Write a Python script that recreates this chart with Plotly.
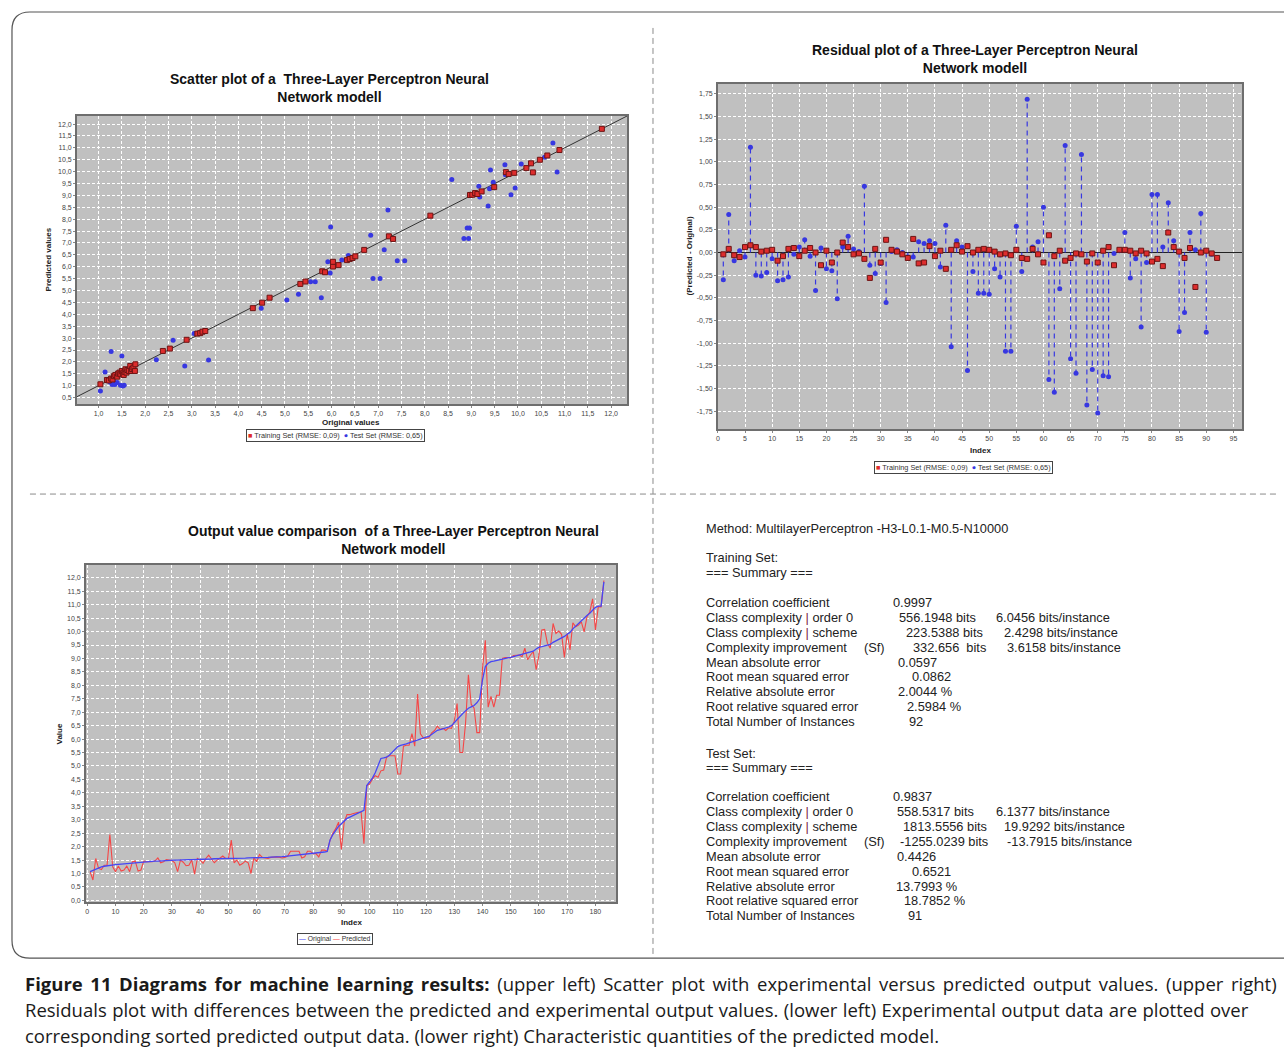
import plotly.graph_objects as go

# ---------------- data ----------------
# Scatter plot (original vs predicted)
train_orig = [1.04, 1.18, 1.22, 1.27, 1.30, 1.33, 1.36, 1.40, 1.42, 1.45, 1.47, 1.50, 1.52, 1.54, 1.56, 1.58, 1.60,
              1.62, 1.65, 1.68, 1.70, 1.72, 1.75, 1.78, 1.79, 2.38, 2.53, 2.89, 3.12, 3.18, 3.23, 3.29, 4.31, 4.51,
              4.67, 5.33, 5.44, 5.80, 5.86, 6.03, 6.03, 6.15, 6.33, 6.39, 6.45, 6.51, 6.70, 7.23, 7.32, 8.12, 8.97,
              9.02, 9.08, 9.13, 9.22, 9.49, 9.74, 9.80, 9.92, 10.18, 10.28, 10.32, 10.47, 10.63, 10.89, 11.80]
train_pred = [1.06, 1.24, 1.22, 1.30, 1.26, 1.40, 1.45, 1.38, 1.51, 1.55, 1.48, 1.62, 1.52, 1.45, 1.58, 1.69, 1.55,
              1.66, 1.62, 1.83, 1.62, 1.70, 1.76, 1.62, 1.90, 2.46, 2.56, 2.93, 3.19, 3.21, 3.27, 3.30, 4.26, 4.49,
              4.70, 5.28, 5.38, 5.81, 5.77, 6.01, 6.21, 6.07, 6.28, 6.33, 6.37, 6.44, 6.71, 7.28, 7.17, 8.15, 9.02,
              9.03, 9.10, 9.06, 9.17, 9.35, 9.98, 9.90, 9.95, 10.15, 10.35, 9.97, 10.50, 10.68, 10.91, 11.80]
test_orig = [1.04, 1.14, 1.27, 1.32, 1.24, 1.29, 1.35, 1.40, 1.47, 1.52, 1.55, 1.50, 1.43, 2.24, 2.60, 2.85, 3.05,
             3.36, 4.49, 5.04, 5.29, 5.55, 5.65, 5.78, 5.92, 5.97, 5.98, 6.22, 6.36, 6.84, 6.89, 7.04, 7.13, 7.21,
             7.41, 7.57, 8.58, 8.84, 8.94, 8.91, 8.96, 9.16, 9.18, 9.36, 9.39, 9.41, 9.47, 9.72, 9.73, 9.85, 9.94,
             10.07, 10.57, 10.75, 10.84]
test_pred = [0.78, 1.58, 2.44, 1.20, 1.16, 1.05, 1.05, 1.13, 1.02, 0.99, 1.02, 2.25, 1.55, 2.09, 2.91, 1.83, 3.19,
             2.08, 4.26, 4.60, 4.84, 5.37, 5.37, 4.70, 6.21, 5.74, 7.67, 6.28, 6.47, 7.33, 5.51, 5.51, 6.72, 8.39,
             6.25, 6.25, 9.67, 7.19, 7.19, 7.63, 7.63, 9.39, 8.93, 8.56, 9.28, 10.07, 9.55, 10.29, 9.87, 9.03, 9.31,
             10.32, 10.61, 11.21, 9.99]

# Residuals (predicted - original) by instance index
train_resid = [-0.02, 0.04, -0.03, -0.05, 0.06, 0.08, 0.06, 0.01, 0.02, 0.03,
               -0.09, -0.04, 0.04, 0.05, -0.04, 0.02, 0.05, 0.00, -0.14, 0.02,
               -0.11, 0.00, 0.11, 0.06, -0.02, -0.01, -0.07, -0.28, 0.04, -0.11,
               0.14, 0.03, 0.01, -0.02, -0.06, 0.15, -0.12, -0.11, 0.07, -0.04,
               0.02, -0.18, 0.03, 0.08, 0.01, 0.07, 0.00, 0.03, 0.04, 0.03,
               0.01, -0.02, -0.01, -0.03, 0.03, -0.06, -0.07, 0.04, -0.02, -0.11,
               0.19, -0.04, 0.02, -0.09, -0.06, -0.01, -0.02, -0.10, -0.01, -0.11,
               0.02, 0.06, -0.14, 0.03, 0.03, 0.02, -0.01, 0.02, -0.01, -0.10,
               -0.07, -0.15, 0.22, 0.06, 0.01, -0.06, 0.05, -0.38, 0.00, 0.02,
               -0.01, -0.06]
test_resid = [-0.30, 0.42, -0.09, 0.02, -0.05, 1.16, -0.25, -0.26, -0.22, -0.07,
              -0.31, -0.30, -0.27, -0.02, 0.06, 0.14, -0.04, -0.42, 0.05, -0.18,
              -0.20, -0.51, 0.06, 0.18, 0.04, 0.01, 0.73, -0.14, -0.23, -0.12,
              -0.55, 0.01, 0.03, 0.00, -0.05, -0.05, 0.12, 0.10, 0.13, 0.10,
              -0.16, 0.30, -1.04, 0.13, 0.06, -1.30, -0.21, -0.45, -0.45, -0.46,
              -0.18, -0.27, -1.09, -1.09, 0.29, -0.21, 1.69, 0.06, 0.12, 0.50,
              -1.40, -1.54, -0.40, 1.18, -1.17, -1.33, 1.08, -1.68, -1.29, -1.77,
              -1.36, -1.37, -0.01, 0.02, 0.22, -0.28, -0.07, -0.82, -0.11, 0.64,
              0.64, 0.06, 0.55, 0.13, -0.87, -0.66, 0.22, 0.03, 0.43, -0.88,
              -0.02]

# Output value comparison (sorted)
original_sorted = [1.07, 1.12, 1.18, 1.22, 1.25, 1.27, 1.29, 1.30, 1.31, 1.33,
                   1.34, 1.35, 1.36, 1.37, 1.38, 1.39, 1.40, 1.41, 1.42, 1.44,
                   1.44, 1.45, 1.45, 1.46, 1.46, 1.47, 1.47, 1.48, 1.49, 1.50,
                   1.50, 1.50, 1.51, 1.51, 1.51, 1.52, 1.52, 1.52, 1.53, 1.53,
                   1.53, 1.54, 1.54, 1.54, 1.55, 1.55, 1.55, 1.56, 1.56, 1.56,
                   1.56, 1.56, 1.57, 1.57, 1.57, 1.57, 1.58, 1.58, 1.58, 1.58,
                   1.59, 1.59, 1.60, 1.60, 1.61, 1.61, 1.62, 1.62, 1.63, 1.64,
                   1.65, 1.66, 1.67, 1.68, 1.69, 1.70, 1.71, 1.72, 1.73, 1.74,
                   1.76, 1.77, 1.78, 1.80, 1.82,
                   2.25, 2.45, 2.60, 2.75, 2.85, 2.95, 3.05, 3.10, 3.15, 3.20, 3.25, 3.30, 3.35,
                   4.27, 4.40, 4.55, 4.75, 5.05, 5.28, 5.30, 5.33, 5.40, 5.50, 5.60, 5.72,
                   5.77, 5.79, 5.82, 5.86, 5.90, 5.93, 5.97, 6.00, 6.03, 6.07, 6.10,
                   6.18, 6.28, 6.33, 6.35, 6.38, 6.41, 6.45, 6.50, 6.62, 6.75,
                   6.85, 6.95, 7.05, 7.15, 7.20, 7.25, 7.35, 7.50, 8.20, 8.70,
                   8.82, 8.88, 8.90, 8.93, 8.95, 8.98, 9.00, 9.02, 9.04, 9.07,
                   9.10, 9.13, 9.16, 9.18, 9.20, 9.23, 9.27, 9.35, 9.42, 9.44,
                   9.46, 9.48, 9.52, 9.60, 9.65, 9.70, 9.76, 9.82, 9.90, 9.97,
                   10.10, 10.20, 10.30, 10.42, 10.50, 10.60, 10.68, 10.80, 10.90, 10.95, 10.95, 11.85]
predicted_sorted = [1.07, 0.76, 1.56, 1.19, 1.15, 1.31, 1.31, 2.45, 1.25, 1.07,
                    1.28, 1.09, 1.13, 1.28, 1.07, 1.44, 1.46, 1.09, 1.13, 1.46,
                    1.44, 1.44, 1.44, 1.47, 1.58, 1.40, 1.44, 1.52, 1.50, 1.48,
                    1.40, 1.07, 1.50, 1.42, 1.29, 1.31, 1.50, 0.98, 1.56, 1.50,
                    1.38, 1.56, 1.68, 1.56, 1.40, 1.50, 1.56, 1.65, 1.56, 1.56,
                    2.24, 1.40, 1.50, 1.31, 1.37, 1.46, 1.40, 1.00, 1.58, 1.44,
                    1.71, 1.60, 1.58, 1.56, 1.60, 1.62, 1.62, 1.61, 1.58, 1.60,
                    1.65, 1.83, 1.83, 1.83, 1.83, 1.58, 1.62, 1.83, 1.83, 1.74,
                    1.74, 1.62, 1.87, 1.87, 1.83,
                    2.24, 2.50, 2.67, 2.91, 1.90, 2.91, 3.19, 3.19, 3.22, 3.25, 3.28, 3.28, 2.11,
                    4.27, 4.33, 4.51, 4.64, 4.58, 4.82, 4.85, 5.32, 5.38, 5.38, 5.38, 4.70,
                    4.70, 5.74, 5.77, 5.77, 6.20, 5.74, 7.68, 6.20, 6.05, 6.03, 6.05,
                    6.23, 6.32, 6.48, 6.36, 6.40, 6.32, 6.42, 6.40, 6.67, 7.32,
                    5.50, 5.50, 6.60, 8.39, 7.29, 7.16, 6.24, 6.24, 8.64, 9.68,
                    7.19, 7.59, 7.19, 7.63, 7.63, 9.00, 9.03, 9.03, 9.03, 9.11,
                    9.13, 9.13, 9.07, 9.38, 8.95, 9.13, 9.25, 8.58, 9.13, 10.06,
                    10.08, 9.56, 9.38, 10.30, 9.93, 10.02, 9.90, 9.04, 9.93, 9.32,
                    10.33, 10.18, 10.24, 10.36, 9.99, 10.55, 10.73, 11.22, 10.06, 10.92, 10.92, 11.90]

# tick values
scatter_ticks = [v / 2 for v in range(1, 25)]
resid_xticks = list(range(0, 100, 5))
resid_yticks = [v / 4 for v in range(-7, 8)]
comp_xticks = list(range(0, 190, 10))
comp_yticks = [v / 2 for v in range(0, 25)]

# summary text
BAR = "<span style='color:#7a1f3d'>|</span>"
train_rows = [
    ("Correlation coefficient", [(893, "0.9997")]),
    (f"Class complexity {BAR} order 0", [(899, "556.1948 bits"), (997, "6.0456 bits/instance")]),
    (f"Class complexity {BAR} scheme", [(906, "223.5388 bits"), (1005, "2.4298 bits/instance")]),
    ("Complexity improvement", [(864, "(Sf)"), (913, "332.656  bits"), (1008, "3.6158 bits/instance")]),
    ("Mean absolute error", [(898, "0.0597")]),
    ("Root mean squared error", [(912, "0.0862")]),
    ("Relative absolute error", [(898, "2.0044 %")]),
    ("Root relative squared error", [(907, "2.5984 %")]),
    ("Total Number of Instances", [(909, "92")]),
]
test_rows = [
    ("Correlation coefficient", [(893, "0.9837")]),
    (f"Class complexity {BAR} order 0", [(897, "558.5317 bits"), (997, "6.1377 bits/instance")]),
    (f"Class complexity {BAR} scheme", [(903, "1813.5556 bits"), (1005, "19.9292 bits/instance")]),
    ("Complexity improvement", [(864, "(Sf)"), (900, "-1255.0239 bits"), (1008, "-13.7915 bits/instance")]),
    ("Mean absolute error", [(897, "0.4426")]),
    ("Root mean squared error", [(912, "0.6521")]),
    ("Relative absolute error", [(896, "13.7993 %")]),
    ("Root relative squared error", [(904, "18.7852 %")]),
    ("Total Number of Instances", [(908, "91")]),
]

# ---------------- helpers ----------------
W, H = 1284, 1052
FONT = "Liberation Sans, Arial, sans-serif"
RED = "rgb(222,45,45)"
REDLINE = "rgb(110,20,20)"
BLUE = "rgb(55,55,225)"
GRID_BG = "#c0c0c0"


def px(x):
    return x / W


def py(y):
    return 1 - y / H


def comma(v, d):
    return f"{v:.{d}f}".replace(".", ",")


fig = go.Figure()

# --- panel 1: scatter
diag = [0.0, 13.0]
fig.add_trace(go.Scatter(x=diag, y=diag, mode="lines", line=dict(color="#333333", width=1),
                         showlegend=False, xaxis="x", yaxis="y", hoverinfo="skip"))
fig.add_trace(go.Scatter(x=test_orig, y=test_pred, mode="markers", name="Test Set (RMSE: 0,65)",
                         marker=dict(color=BLUE, size=5), showlegend=False, xaxis="x", yaxis="y"))
fig.add_trace(go.Scatter(x=train_orig, y=train_pred, mode="markers", name="Training Set (RMSE: 0,09)",
                         marker=dict(color=RED, size=5, symbol="square", line=dict(color=REDLINE, width=1)),
                         showlegend=False, xaxis="x", yaxis="y"))

# --- panel 2: residuals
test_idx = list(range(1, len(test_resid) + 1))
train_idx = list(range(1, len(train_resid) + 1))
stem_x, stem_y = [], []
for i, v in zip(test_idx, test_resid):
    stem_x += [i, i, None]
    stem_y += [0, v, None]
fig.add_trace(go.Scatter(x=stem_x, y=stem_y, mode="lines", line=dict(color=BLUE, width=1.2, dash="5px,4px"),
                         showlegend=False, xaxis="x2", yaxis="y2", hoverinfo="skip"))
fig.add_trace(go.Scatter(x=test_idx, y=test_resid, mode="markers", name="Test Set (RMSE: 0,65)",
                         marker=dict(color=BLUE, size=5), showlegend=False, xaxis="x2", yaxis="y2"))
fig.add_trace(go.Scatter(x=train_idx, y=train_resid, mode="markers", name="Training Set (RMSE: 0,09)",
                         marker=dict(color=RED, size=5, symbol="square", line=dict(color=REDLINE, width=1)),
                         showlegend=False, xaxis="x2", yaxis="y2"))

# --- panel 3: comparison
comp_idx = list(range(1, len(original_sorted) + 1))
fig.add_trace(go.Scatter(x=comp_idx, y=predicted_sorted, mode="lines", name="Predicted",
                         line=dict(color="rgb(245,70,70)", width=1.1), showlegend=False, xaxis="x3", yaxis="y3"))
fig.add_trace(go.Scatter(x=comp_idx, y=original_sorted, mode="lines", name="Original",
                         line=dict(color="rgb(70,70,245)", width=1.3), showlegend=False, xaxis="x3", yaxis="y3"))

tickfont = dict(family=FONT, size=7, color="#444444")
common = dict(showgrid=True, gridcolor="white", griddash="3px,2px", gridwidth=1,
              showline=True, mirror=True, linecolor="#6e6e6e", linewidth=1.5,
              ticks="outside", ticklen=2, tickcolor="#888888", tickfont=tickfont, zeroline=False)

fig.update_layout(
    width=W, height=H, margin=dict(l=0, r=0, t=0, b=0),
    paper_bgcolor="white", plot_bgcolor=GRID_BG, showlegend=False,
    xaxis=dict(domain=[px(75), px(626)], range=[0.535, 12.34], anchor="y",
               tickvals=scatter_ticks[1:], ticktext=[comma(v, 1) for v in scatter_ticks[1:]], **common),
    yaxis=dict(domain=[py(405), py(116)], range=[0.22, 12.35], anchor="x",
               tickvals=scatter_ticks, ticktext=[comma(v, 1) for v in scatter_ticks], **common),
    xaxis2=dict(domain=[px(717), px(1242)], range=[0, 96.6], anchor="y2",
                tickvals=resid_xticks, ticktext=[str(v) for v in resid_xticks], **common),
    yaxis2=dict(domain=[py(430), py(84)], range=[-1.948, 1.86], anchor="x2",
                tickvals=resid_yticks, ticktext=[comma(v, 2) for v in resid_yticks], **common),
    xaxis3=dict(domain=[px(84), px(615)], range=[-0.5, 187.3], anchor="y3",
                tickvals=comp_xticks, ticktext=[str(v) for v in comp_xticks], **common),
    yaxis3=dict(domain=[py(904), py(566)], range=[-0.07, 12.48], anchor="x3",
                tickvals=comp_yticks, ticktext=[comma(v, 1) for v in comp_yticks], **common),
)
fig.update_layout(yaxis2=dict(zeroline=True, zerolinecolor="#222222", zerolinewidth=1.2))

ann = []


def txt(x, y, s, size=12, color="#222222", xanchor="left", angle=0, family=FONT, **kw):
    ann.append(dict(x=px(x), y=py(y), xref="paper", yref="paper", text=s, showarrow=False,
                    xanchor=xanchor, yanchor="middle", textangle=angle,
                    font=dict(family=family, size=size, color=color), **kw))


# titles
txt(328, 88, "<b>Scatter plot of a  Three-Layer Perceptron Neural<br>Network modell</b>", 14, "#111111", "center")
txt(975, 59, "<b>Residual plot of a Three-Layer Perceptron Neural<br>Network modell</b>", 14, "#111111", "center")
txt(392, 541, "<b>Output value comparison  of a Three-Layer Perceptron Neural<br>Network modell</b>", 14, "#111111", "center")

# axis titles
txt(350, 423, "<b>Original values</b>", 8, "#222222", "center")
txt(47, 260, "<b>Predicted values</b>", 8, "#222222", "center", angle=-90)
txt(980, 451, "<b>Index</b>", 8, "#222222", "center")
txt(689, 256, "<b>(Predicted - Original)</b>", 8, "#222222", "center", angle=-90)
txt(350, 924, "<b>Index</b>", 8, "#222222", "center")
txt(58, 735, "<b>Value</b>", 8, "#222222", "center", angle=-90)

# legends
leg_sc = (f"<span style='color:{RED}'>■</span> Training Set (RMSE: 0,09)  "
          f"<span style='color:{BLUE}'>●</span> Test Set (RMSE: 0,65)")
txt(334, 436, leg_sc, 7.3, "#333333", "center", bordercolor="#444444", borderwidth=1, borderpad=1, bgcolor="white")
txt(963, 468, leg_sc, 7.3, "#333333", "center", bordercolor="#444444", borderwidth=1, borderpad=1, bgcolor="white")
leg_cmp = ("<span style='color:rgb(70,70,245)'>—</span> Original "
           "<span style='color:rgb(245,70,70)'>—</span> Predicted")
txt(334, 941, leg_cmp, 6.8, "#333333", "center", bordercolor="#444444", borderwidth=1, borderpad=1, bgcolor="white")

# summary text (left-anchored annotations carry ~3px padding)
SZ = 12.8
DX = -3
txt(706 + DX, 530, "Method: MultilayerPerceptron -H3-L0.1-M0.5-N10000", SZ)
txt(706 + DX, 559, "Training Set:", SZ)
txt(706 + DX, 574, "=== Summary ===", SZ)
y0 = 604
for k, (label, vals) in enumerate(train_rows):
    yy = y0 + k * 14.85
    txt(706 + DX, yy, label, SZ)
    for xx, s in vals:
        txt(xx + DX, yy, s, SZ)
txt(706 + DX, 755, "Test Set:", SZ)
txt(706 + DX, 769, "=== Summary ===", SZ)
y0 = 798
for k, (label, vals) in enumerate(test_rows):
    yy = y0 + k * 14.95
    txt(706 + DX, yy, label, SZ)
    for xx, s in vals:
        txt(xx + DX, yy, s, SZ)

# caption
CAP = "Open Sans, sans-serif"
CSZ = 18.5
txt(21, 985, "<span style='word-spacing:2.8px'><b>Figure 11 Diagrams for machine learning results:</b> (upper left) "
    "Scatter plot with experimental versus predicted output values. (upper right)</span>", CSZ, "#1a1a1a", family=CAP)
txt(21, 1011, "<span style='word-spacing:0.6px'>Residuals plot with differences between the predicted and experimental "
    "output values. (lower left) Experimental output data are plotted over</span>", CSZ, "#1a1a1a", family=CAP)
txt(21, 1037, "corresponding sorted predicted output data. (lower right) Characteristic quantities of the predicted model.",
    CSZ, "#1a1a1a", family=CAP)

fig.update_layout(annotations=ann)

# frame and dividers
shapes = []
shapes.append(dict(type="path", xref="paper", yref="paper",
                   path=(f"M {px(1300)},{py(12)} L {px(28)},{py(12)} Q {px(10)},{py(12)} {px(10)},{py(30)} "
                         f"L {px(10)},{py(942)} Q {px(10)},{py(960)} {px(28)},{py(960)} L {px(1300)},{py(960)}"),
                   line=dict(color="#555555", width=1.2)))
shapes.append(dict(type="line", xref="paper", yref="paper", x0=px(652), x1=px(652), y0=py(28), y1=py(956),
                   line=dict(color="#8a8a8a", width=1, dash="6px,4px")))
shapes.append(dict(type="line", xref="paper", yref="paper", x0=px(28), x1=px(1278), y0=py(495), y1=py(495),
                   line=dict(color="#8a8a8a", width=1, dash="6px,4px")))
fig.update_layout(shapes=shapes)

fig.write_html("out.html", config={"displayModeBar": False},
               post_script="document.body.style.margin='0';")
